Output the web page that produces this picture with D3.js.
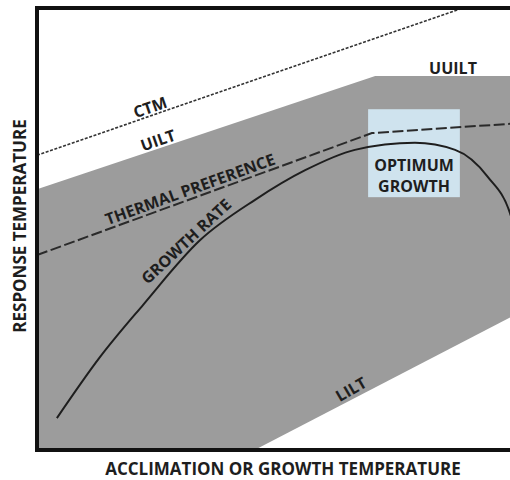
<!DOCTYPE html>
<html>
<head>
<meta charset="utf-8">
<script src="https://cdn.jsdelivr.net/npm/d3@7"></script>
<style>
  html, body { margin: 0; padding: 0; background: #fff; }
  text { font-family: "Open Sans", "Noto Sans", sans-serif; font-weight: 700; fill: #1e1e1e; }
</style>
</head>
<body>
<div id="chart"></div>
<script>
// values in relative units (0-100) on both axes
const envelopeUpper = [[0, 59], [71.5, 84.6], [100, 84.6]];   // UILT -> UUILT
const envelopeLower = [[100, 30], [46, 0], [0, 0]];            // LILT
const ctmLine = [[0, 66.7], [90, 100]];
const thermalPref = [[0, 44.1], [70.8, 71.7], [100, 73.8]];
const growthRate = [
  [4.2, 7.2], [13.3, 21.0], [22.4, 32.8], [34.5, 47.5], [46.1, 56.6],
  [56.7, 63.3], [67.2, 67.9], [79.9, 69.5], [88.4, 67.9], [95.3, 61.8], [100, 53.6], [102, 46]
];
const optimumBox = { x0: 70, x1: 89.4, y0: 57.2, y1: 77.1 };

const W = 510, H = 480;
const margin = { top: 8, right: 0, bottom: 30, left: 37 };

const svg = d3.select("#chart").append("svg").attr("width", W).attr("height", H);

const x = d3.scaleLinear().domain([0, 100]).range([margin.left, W - margin.right]);
const y = d3.scaleLinear().domain([0, 100]).range([H - margin.bottom, margin.top]);

svg.append("defs").append("clipPath").attr("id", "plot")
  .append("rect")
  .attr("x", x(0)).attr("y", y(100))
  .attr("width", x(100) - x(0)).attr("height", y(0) - y(100));

const plot = svg.append("g").attr("clip-path", "url(#plot)");
const line = d3.line().x(d => x(d[0])).y(d => y(d[1]));

// === Tolerance envelope ===
plot.append("path")
  .attr("d", line(envelopeUpper.concat(envelopeLower)) + "Z")
  .attr("fill", "#9c9c9c");

// === Optimum growth box ===
plot.append("rect")
  .attr("x", x(optimumBox.x0))
  .attr("y", y(optimumBox.y1))
  .attr("width", x(optimumBox.x1) - x(optimumBox.x0))
  .attr("height", y(optimumBox.y0) - y(optimumBox.y1))
  .attr("fill", "#cfe3ee");

// === Lines ===
plot.append("path")
  .attr("d", line(ctmLine))
  .attr("fill", "none").attr("stroke", "#333").attr("stroke-width", 1.6)
  .attr("stroke-dasharray", "3,1.6");

plot.append("path")
  .attr("d", line(thermalPref))
  .attr("fill", "none").attr("stroke", "#2a2a2a").attr("stroke-width", 2)
  .attr("stroke-dasharray", "11,3.5");

plot.append("path")
  .attr("d", d3.line().x(d => x(d[0])).y(d => y(d[1])).curve(d3.curveMonotoneX)(growthRate))
  .attr("fill", "none").attr("stroke", "#1e1e1e").attr("stroke-width", 2);

// === Frame (left, top, bottom) ===
svg.append("path")
  .attr("d", `M${W},${y(100)}H${x(0)}V${y(0)}H${W}`)
  .attr("fill", "none").attr("stroke", "#111").attr("stroke-width", 4);

// === Labels ===
const labels = [
  { text: "CTM", px: 150, py: 107, angle: -19 },
  { text: "UILT", px: 158, py: 140, angle: -19 },
  { text: "THERMAL PREFERENCE", px: 190, py: 189, angle: -20 },
  { text: "GROWTH RATE", px: 186, py: 241, angle: -43 },
  { text: "LILT", px: 351, py: 389, angle: -30 },
  { text: "UUILT", px: 453, py: 68, angle: 0 },
  { text: "OPTIMUM", px: 414, py: 165, angle: 0 },
  { text: "GROWTH", px: 414, py: 186, angle: 0 }
];

svg.selectAll("text.lbl")
  .data(labels)
  .enter()
  .append("text")
  .attr("class", "lbl")
  .attr("text-anchor", "middle")
  .attr("dominant-baseline", "central")
  .attr("transform", d => `translate(${d.px},${d.py}) rotate(${d.angle})`)
  .style("font-size", "16px")
  .text(d => d.text);

svg.append("text")
  .attr("x", 283).attr("y", 475)
  .attr("text-anchor", "middle")
  .style("font-size", "17px")
  .text("ACCLIMATION OR GROWTH TEMPERATURE");

svg.append("text")
  .attr("transform", "translate(19,226) rotate(-90)")
  .attr("text-anchor", "middle")
  .attr("dominant-baseline", "central")
  .style("font-size", "17px")
  .text("RESPONSE TEMPERATURE");
</script>
</body>
</html>
